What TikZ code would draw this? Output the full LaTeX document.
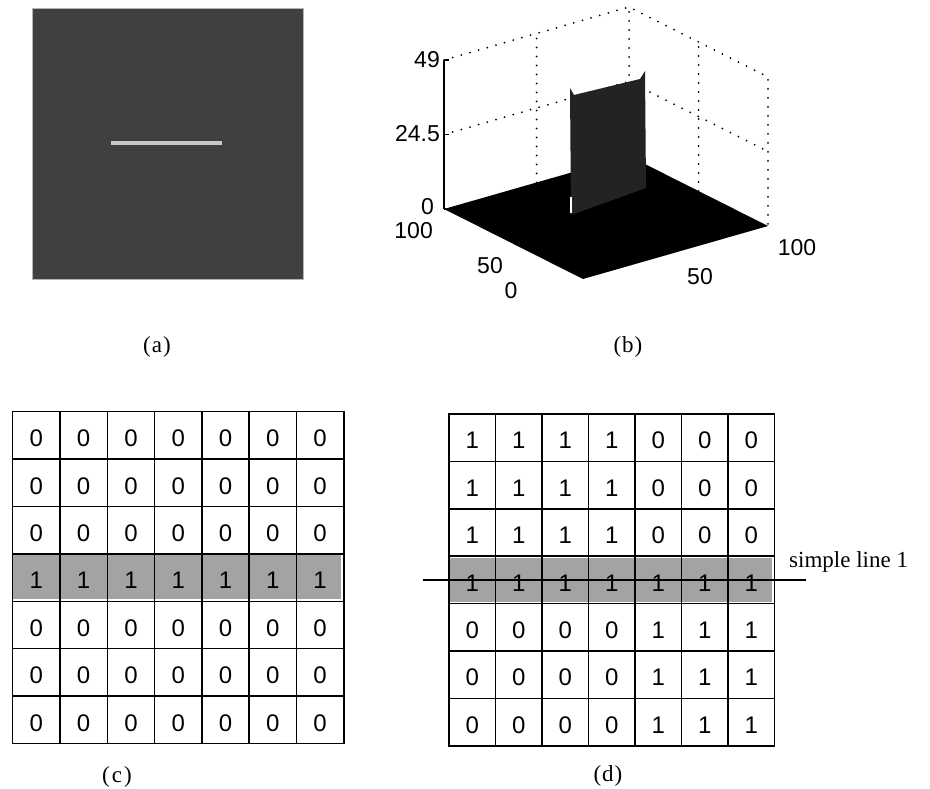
\documentclass[tikz,border=0pt]{standalone}
\usepackage{fontspec}
\setmainfont{Liberation Serif}
\newfontfamily\arialfont{Liberation Sans}
\definecolor{darkbg}{HTML}{404040}
\definecolor{edgegray}{HTML}{B4B4B4}
\definecolor{linegray}{HTML}{C8C8C8}
\definecolor{bandgray}{HTML}{A3A3A6}
\definecolor{wallgray}{HTML}{232323}

\begin{document}
\begin{tikzpicture}[x=1pt,y=-1pt,
  cellbox/.style={draw,line width=1.5pt,minimum width=47.3pt,minimum height=47.4pt,inner sep=0pt,font=\arialfont\fontsize{24}{24}\selectfont},
  digit/.style={inner sep=0pt,font=\arialfont\fontsize{24}{24}\selectfont},
  axislabel/.style={font=\arialfont\fontsize{23}{23}\selectfont,inner sep=1pt},
  caption/.style={font=\fontsize{23}{23}\selectfont,inner sep=1pt},
  dotgrid/.style={line width=2pt,line cap=round,dash pattern=on 0pt off 9pt}]
  \useasboundingbox (0,0) rectangle (930,789);

  % (a)
  \filldraw[fill=darkbg,draw=edgegray,line width=0.8pt] (32,8) rectangle (303,279);
  \draw[linegray,line width=4pt] (111,142.7) -- (222,142.7);

  % (b)
  \coordinate (A) at (444,209);
  \coordinate (B) at (583,279);
  \coordinate (C) at (768,226);
  \coordinate (D) at (629,156);
  \draw[dotgrid] (444,60) -- (629,7) -- (768,77) -- (C);
  \draw[dotgrid] (444,134.5) -- (629,81.5) -- (768,151.5);
  \draw[dotgrid] (D) -- (629,7);
  \draw[dotgrid] (536.5,182.5) -- (536.5,33.5);
  \draw[dotgrid] (698.5,191) -- (698.5,42);
  \fill[black] (A) -- (B) -- (C) -- (D) -- cycle;
  \fill[wallgray] (570,88) -- (574,95) -- (640,79) -- (645,71) -- (646,188) -- (571,215) -- cycle;
  \draw[white,line width=1.3pt] (571,197) -- (571,213);
  \draw[line width=1.5pt] (A) -- (444,60);
  \foreach \z in {60,134.5,209}
    \draw[line width=1.2pt] (444,\z) -- (449,\z);

  \node[axislabel,anchor=east] (z49) at (441,60) {49};
  \node[axislabel,anchor=east] (z245) at (441,134) {24.5};
  \node[axislabel,anchor=east] (z0) at (435,207) {0};
  \node[axislabel,anchor=east] (y100) at (434,231) {100};
  \node[axislabel] (y50) at (490,266) {50};
  \node[axislabel] (y0) at (511,291) {0};
  \node[axislabel] (x50) at (700,277) {50};
  \node[axislabel] (x100) at (797,248) {100};

  \node[caption] (capa) at (157,347) {(\kern1pt a\kern1pt)};
  \node[caption] (capb) at (628,347) {(\kern1pt b\kern1pt)};

  % (c)
  \fill[bandgray] (13,554) rectangle (341,599);
  \foreach \row [count=\r] in {{0,0,0,0,0,0,0},{0,0,0,0,0,0,0},{0,0,0,0,0,0,0},{1,1,1,1,1,1,1},{0,0,0,0,0,0,0},{0,0,0,0,0,0,0},{0,0,0,0,0,0,0}}
    \foreach \v [count=\c] in \row
      \node[cellbox,label={[digit,yshift=-3pt]center:\v}] (c-\r-\c) at ({12.7+47.3*(\c-0.5)},{411.7+47.4*(\r-0.5)}) {};
  \node[caption] (capc) at (117,777) {(\kern2pt c\kern2pt)};

  % (d)
  \fill[bandgray] (450,558) rectangle (772,602);
  \foreach \row [count=\r] in {{1,1,1,1,0,0,0},{1,1,1,1,0,0,0},{1,1,1,1,0,0,0},{1,1,1,1,1,1,1},{0,0,0,0,1,1,1},{0,0,0,0,1,1,1},{0,0,0,0,1,1,1}}
    \foreach \v [count=\c] in \row
      \node[cellbox,minimum width=46.5pt,label={[digit,yshift=-3pt]center:\v}] (d-\r-\c) at ({449+46.5*(\c-0.5)},{414+47.4*(\r-0.5)}) {};
  \node[caption,anchor=base west] (sl) at (788,567) {simple line 1};
  \coordinate (sl-w) at (423,579.9);
  \coordinate (sl-e) at (806,579.9);
  \draw[line width=1.5pt] (sl-w) -- (sl-e);
  \node[caption] (capd) at (608,776) {(\kern1pt d\kern1pt)};
\end{tikzpicture}
\end{document}
